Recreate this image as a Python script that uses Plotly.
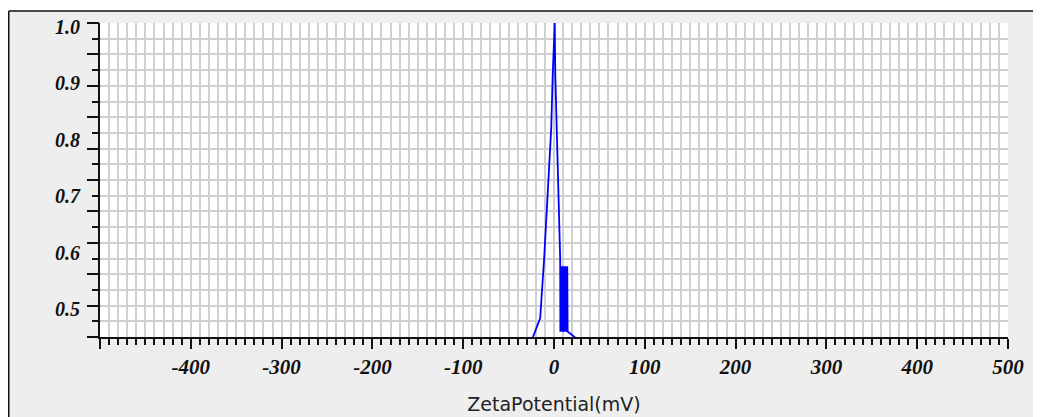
import plotly.graph_objects as go

# ---- data ----
zeta_mv = [-23.3, -15.2, -10.8, -3.1, -1.4, 0.0, 0.8, 1.4, 3.1, 6.8,
           7.0, 7.4, 7.8, 8.2, 8.6, 9.0, 9.4, 9.8, 10.2, 10.6, 11.0,
           11.4, 11.8, 12.2, 12.6, 13.0, 13.4, 13.8, 14.2, 14.6, 15.0,
           15.2, 23.3]
intensity = [0.443, 0.477, 0.584, 0.812, 0.909, 1.0, 1.0, 0.909, 0.812, 0.584,
             0.453, 0.569, 0.453, 0.569, 0.453, 0.569, 0.453, 0.569, 0.453, 0.569, 0.453,
             0.569, 0.453, 0.569, 0.453, 0.569, 0.453, 0.569, 0.453, 0.569, 0.453,
             0.453, 0.443]

x_tick_vals = [-500, -400, -300, -200, -100, 0, 100, 200, 300, 400, 500]
x_tick_text = ["", "-400", "-300", "-200", "-100", "0", "100", "200", "300", "400", "500"]
y_tick_vals = [0.5, 0.6, 0.7, 0.8, 0.9, 1.0]
y_tick_text = ["0.5", "0.6", "0.7", "0.8", "0.9", "1.0"]
x_title = "ZetaPotential(mV)"

# ---- layout constants ----
X_RANGE = [-500, 500]
Y_RANGE = [0.4436, 1.0]
N_YGRID = 20
y_step = (Y_RANGE[1] - Y_RANGE[0]) / N_YGRID
y_grid = [Y_RANGE[1] - i * y_step for i in range(N_YGRID + 1)]
y_long = y_grid[::2]

GRID = "#cfcfcf"
BODY = 8  # page margin around the figure div
FIG_W, FIG_H = 1041 - BODY, 417 - BODY
ML, MT, PW, PH = 92, 15, 908, 314

def tick_font(size):
    return dict(family="Liberation Serif", size=size, color="#111111",
                weight="bold", style="italic")

fig = go.Figure()
fig.add_trace(go.Scatter(x=zeta_mv, y=intensity, mode="lines",
                         line=dict(color="#0000ff", width=1.8),
                         hoverinfo="x+y", showlegend=False))
# helper (empty) trace so the long-tick overlay axis is drawn
fig.add_trace(go.Scatter(x=[], y=[], yaxis="y2", showlegend=False))

fig.update_layout(
    width=FIG_W, height=FIG_H,
    margin=dict(l=ML, r=FIG_W - ML - PW, t=MT, b=FIG_H - MT - PH, autoexpand=False),
    paper_bgcolor="#eeeeee",
    plot_bgcolor="#ffffff",
    showlegend=False,
    xaxis=dict(
        range=X_RANGE, tickmode="array", tickvals=x_tick_vals, ticktext=x_tick_text,
        ticks="outside", ticklen=10, tickwidth=2, tickcolor="#111111",
        showline=True, linecolor="#111111", linewidth=2,
        showgrid=True, gridcolor=GRID, gridwidth=2, zeroline=False,
        tickfont=tick_font(21),
        minor=dict(dtick=10, tick0=0, ticks="outside", ticklen=6, tickwidth=2,
                   tickcolor="#111111", showgrid=True, gridcolor=GRID, gridwidth=2),
        title=dict(text=x_title, font=dict(family="DejaVu Sans", size=19, color="#222222"),
                   standoff=19),
        automargin=False, fixedrange=True,
    ),
    yaxis=dict(
        range=Y_RANGE, tickmode="array", tickvals=y_tick_vals, ticktext=y_tick_text,
        ticks="outside", ticklen=12, tickwidth=2, tickcolor="rgba(0,0,0,0)",
        showline=True, linecolor="#111111", linewidth=2,
        showgrid=False, zeroline=False,
        tickfont=tick_font(20), ticklabelshift=4, ticklabelstandoff=2,
        minor=dict(tickmode="array", tickvals=y_grid, ticks="outside", ticklen=6,
                   tickwidth=2, tickcolor="#111111", showgrid=True,
                   gridcolor=GRID, gridwidth=2),
        automargin=False, fixedrange=True,
    ),
    yaxis2=dict(
        range=Y_RANGE, overlaying="y", side="left", anchor="x",
        tickmode="array", tickvals=y_long, ticks="outside", ticklen=12,
        tickwidth=2, tickcolor="#111111", showticklabels=False,
        showgrid=False, showline=False, zeroline=False, fixedrange=True,
    ),
)

# outer panel: white above the top border, black border at left/top
bx = (0.75 - ML) / PW
by = 1 + (MT - 3) / PH
fig.add_shape(type="rect", xref="paper", yref="paper", x0=-0.3, x1=1.3, y0=by, y1=1.3,
              fillcolor="#ffffff", line=dict(width=0), layer="below")
fig.add_shape(type="line", xref="paper", yref="paper", x0=bx, x1=1.3, y0=by, y1=by,
              line=dict(color="#111111", width=1.5))
fig.add_shape(type="line", xref="paper", yref="paper", x0=bx, x1=bx, y0=by, y1=-0.6,
              line=dict(color="#111111", width=1.5))

fig.write_html("out.html")
